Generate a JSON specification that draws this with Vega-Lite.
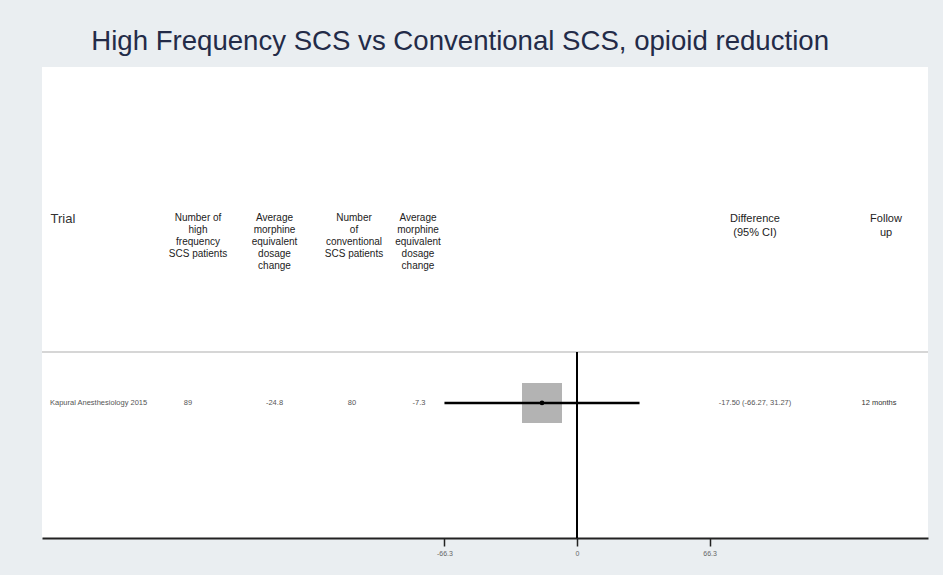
{
  "$schema": "https://vega.github.io/schema/vega-lite/v6.json",
  "width": 886,
  "height": 471,
  "autosize": {"type": "none"},
  "padding": {"left": 42, "top": 67, "right": 15, "bottom": 37},
  "background": "#eaeef1",
  "title": {
    "text": "High Frequency SCS vs Conventional SCS, opioid reduction",
    "anchor": "start",
    "dx": 50,
    "dy": 25,
    "offset": 14,
    "baseline": "alphabetic",
    "fontSize": 27.6,
    "font": "Liberation Sans",
    "fontWeight": "normal",
    "color": "#232b48"
  },
  "config": {
    "view": {"stroke": null, "fill": "white"},
    "font": "Liberation Sans",
    "text": {"font": "Liberation Sans"}
  },
  "resolve": {"axis": {"x": "independent", "y": "independent"}},
  "data": {
    "values": [
      {"trial": "Kapural Anesthesiology 2015", "n_hf": 89, "mean_hf": -24.8, "n_conv": 80, "mean_conv": -7.3, "diff": -17.5, "lo": -66.27, "hi": 31.27, "diff_ci": "-17.50 (-66.27, 31.27)", "followup": "12 months", "row": 1}
    ]
  },
  "layer": [
    {
      "mark": {"type": "rule", "color": "#c8c8c8", "strokeWidth": 1.5},
      "encoding": {
        "x": {"datum": -267.5, "type": "quantitative", "scale": {"domain": [-267.5, 175.5], "nice": false, "zero": false},
          "axis": {
            "orient": "bottom",
            "values": [-66.3, 0, 66.3],
            "title": null,
            "grid": false,
            "domainColor": "#222222",
            "domainWidth": 2,
            "tickColor": "#222222",
            "tickWidth": 1.5,
            "tickSize": 8,
            "labelFontSize": 7,
            "labelColor": "#666666",
            "labelPadding": 3,
            "labelExpr": "datum.value == 0 ? '0' : (datum.value < 0 ? '-' + abs(datum.value) : '' + datum.value)"
          }
        },
        "x2": {"datum": 175.5},
        "y": {"datum": 0.5, "type": "quantitative", "scale": {"domain": [-2.294, 2.324], "reverse": true, "nice": false, "zero": false}, "axis": null}
      }
    },
    {
      "mark": {"type": "point", "shape": "square", "filled": true, "color": "#b3b3b3", "opacity": 1, "size": 1600},
      "encoding": {"x": {"field": "diff", "type": "quantitative", "axis": null}, "y": {"field": "row", "type": "quantitative", "axis": null}}
    },
    {
      "mark": {"type": "rule", "color": "black", "strokeWidth": 2.5},
      "encoding": {"x": {"field": "lo", "type": "quantitative", "axis": null}, "x2": {"field": "hi"}, "y": {"field": "row", "type": "quantitative", "axis": null}}
    },
    {
      "mark": {"type": "point", "shape": "circle", "filled": true, "color": "black", "opacity": 1, "size": 22},
      "encoding": {"x": {"field": "diff", "type": "quantitative", "axis": null}, "y": {"field": "row", "type": "quantitative", "axis": null}}
    },
    {
      "mark": {"type": "rule", "color": "black", "strokeWidth": 2},
      "encoding": {"x": {"datum": 0, "type": "quantitative", "axis": null}, "y": {"datum": 0.5, "type": "quantitative", "axis": null}, "y2": {"datum": 2.324}}
    },
    {
      "mark": {"type": "text", "align": "left", "baseline": "top", "fontSize": 13, "color": "#333333"},
      "encoding": {"x": {"datum": -263.25, "type": "quantitative", "axis": null}, "y": {"datum": -0.86, "type": "quantitative", "axis": null}, "text": {"value": "Trial"}}
    },
    {
      "mark": {"type": "text", "align": "center", "baseline": "top", "fontSize": 10, "lineHeight": 12, "lineBreak": "\n", "color": "#222222"},
      "encoding": {"x": {"datum": -189.5, "type": "quantitative", "axis": null}, "y": {"datum": -0.86, "type": "quantitative", "axis": null}, "text": {"value": "Number of\nhigh\nfrequency\nSCS patients"}}
    },
    {
      "mark": {"type": "text", "align": "center", "baseline": "top", "fontSize": 10, "lineHeight": 12, "lineBreak": "\n", "color": "#222222"},
      "encoding": {"x": {"datum": -151.25, "type": "quantitative", "axis": null}, "y": {"datum": -0.86, "type": "quantitative", "axis": null}, "text": {"value": "Average\nmorphine\nequivalent\ndosage\nchange"}}
    },
    {
      "mark": {"type": "text", "align": "center", "baseline": "top", "fontSize": 10, "lineHeight": 12, "lineBreak": "\n", "color": "#222222"},
      "encoding": {"x": {"datum": -111.5, "type": "quantitative", "axis": null}, "y": {"datum": -0.86, "type": "quantitative", "axis": null}, "text": {"value": "Number\nof\nconventional\nSCS patients"}}
    },
    {
      "mark": {"type": "text", "align": "center", "baseline": "top", "fontSize": 10, "lineHeight": 12, "lineBreak": "\n", "color": "#222222"},
      "encoding": {"x": {"datum": -79.5, "type": "quantitative", "axis": null}, "y": {"datum": -0.86, "type": "quantitative", "axis": null}, "text": {"value": "Average\nmorphine\nequivalent\ndosage\nchange"}}
    },
    {
      "mark": {"type": "text", "align": "center", "baseline": "top", "fontSize": 11, "lineHeight": 14, "lineBreak": "\n", "color": "#222222"},
      "encoding": {"x": {"datum": 89, "type": "quantitative", "axis": null}, "y": {"datum": -0.86, "type": "quantitative", "axis": null}, "text": {"value": "Difference\n(95% CI)"}}
    },
    {
      "mark": {"type": "text", "align": "center", "baseline": "top", "fontSize": 11, "lineHeight": 14, "lineBreak": "\n", "color": "#222222"},
      "encoding": {"x": {"datum": 154.5, "type": "quantitative", "axis": null}, "y": {"datum": -0.86, "type": "quantitative", "axis": null}, "text": {"value": "Follow\nup"}}
    },
    {
      "mark": {"type": "text", "align": "left", "baseline": "middle", "fontSize": 7.5, "color": "#555555"},
      "encoding": {"x": {"datum": -263.5, "type": "quantitative", "axis": null}, "y": {"field": "row", "type": "quantitative", "axis": null}, "text": {"field": "trial", "type": "nominal"}}
    },
    {
      "mark": {"type": "text", "align": "center", "baseline": "middle", "fontSize": 7.5, "color": "#555555"},
      "encoding": {"x": {"datum": -194.5, "type": "quantitative", "axis": null}, "y": {"field": "row", "type": "quantitative", "axis": null}, "text": {"field": "n_hf", "type": "nominal"}}
    },
    {
      "mark": {"type": "text", "align": "center", "baseline": "middle", "fontSize": 7.5, "color": "#555555"},
      "encoding": {"x": {"datum": -151.25, "type": "quantitative", "axis": null}, "y": {"field": "row", "type": "quantitative", "axis": null}, "text": {"field": "mean_hf", "type": "nominal"}}
    },
    {
      "mark": {"type": "text", "align": "center", "baseline": "middle", "fontSize": 7.5, "color": "#555555"},
      "encoding": {"x": {"datum": -112.5, "type": "quantitative", "axis": null}, "y": {"field": "row", "type": "quantitative", "axis": null}, "text": {"field": "n_conv", "type": "nominal"}}
    },
    {
      "mark": {"type": "text", "align": "center", "baseline": "middle", "fontSize": 7.5, "color": "#555555"},
      "encoding": {"x": {"datum": -79, "type": "quantitative", "axis": null}, "y": {"field": "row", "type": "quantitative", "axis": null}, "text": {"field": "mean_conv", "type": "nominal"}}
    },
    {
      "mark": {"type": "text", "align": "center", "baseline": "middle", "fontSize": 7.5, "color": "#555555"},
      "encoding": {"x": {"datum": 89, "type": "quantitative", "axis": null}, "y": {"field": "row", "type": "quantitative", "axis": null}, "text": {"field": "diff_ci", "type": "nominal"}}
    },
    {
      "mark": {"type": "text", "align": "center", "baseline": "middle", "fontSize": 7.5, "color": "#333333"},
      "encoding": {"x": {"datum": 151, "type": "quantitative", "axis": null}, "y": {"field": "row", "type": "quantitative", "axis": null}, "text": {"field": "followup", "type": "nominal"}}
    }
  ]
}
